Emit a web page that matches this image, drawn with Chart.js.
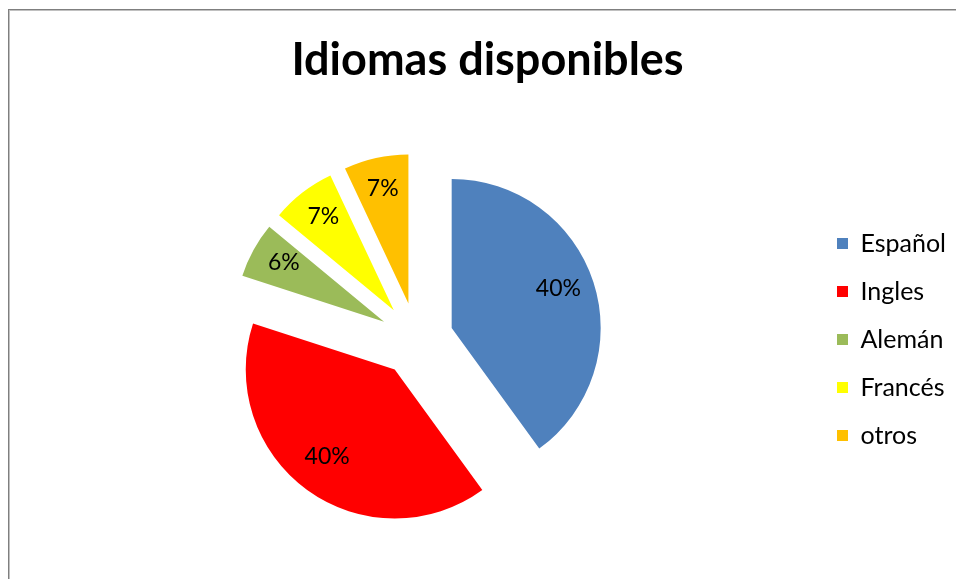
<!DOCTYPE html>
<html>
<head>
<meta charset="utf-8">
<script src="https://cdn.jsdelivr.net/npm/chart.js@4.4.1/dist/chart.umd.min.js"></script>
<style>
  html, body { margin: 0; padding: 0; background: #fff; }
  #wrap { position: relative; width: 956px; height: 579px; overflow: hidden; }
  #frame { position: absolute; left: 8px; top: 9px; width: 1000px; height: 700px;
           border-top: 1px solid #7f7f7f; border-left: 1px solid #7f7f7f;
           box-shadow: inset 1px 1px 0 #c0c0c0; }
  canvas { position: absolute; left: 0; top: 0; }
</style>
</head>
<body>
<div id="wrap">
  <div id="frame"></div>
  <canvas id="c" width="956" height="579"></canvas>
</div>
<script>
const categories = ['Español', 'Ingles', 'Alemán', 'Francés', 'otros'];
const values = [40, 40, 6, 7, 7];
const pctLabels = ['40%', '40%', '6%', '7%', '7%'];
const colors = ['#4F81BD', '#FF0000', '#9BBB59', '#FFFF00', '#FFC000'];
const titleText = 'Idiomas disponibles';

const FONT = 'Lato, "Open Sans", sans-serif';
const EXPLODE = 37; // px each slice is pulled out along its bisector

// Draw each library arc element shifted outward (exploded pie)
const explodePlugin = {
  id: 'explode',
  beforeDatasetDraw(chart, args) {
    const ctx = chart.ctx;
    args.meta.data.forEach(arc => {
      const mid = (arc.startAngle + arc.endAngle) / 2;
      ctx.save();
      ctx.translate(Math.cos(mid) * EXPLODE, Math.sin(mid) * EXPLODE);
      arc.draw(ctx);
      ctx.restore();
    });
    return false;
  }
};

const pctLabelPlugin = {
  id: 'pctLabels',
  afterDatasetsDraw(chart) {
    const ctx = chart.ctx;
    const meta = chart.getDatasetMeta(0);
    ctx.save();
    ctx.font = '23px ' + FONT;
    ctx.fillStyle = '#000';
    ctx.textAlign = 'center';
    ctx.textBaseline = 'alphabetic';
    meta.data.forEach((arc, i) => {
      const p = arc.getProps(['x', 'y', 'startAngle', 'endAngle', 'outerRadius'], true);
      const mid = (p.startAngle + p.endAngle) / 2;
      const d = EXPLODE + 0.76 * p.outerRadius;
      ctx.fillText(pctLabels[i], p.x + Math.cos(mid) * d - 1, p.y + Math.sin(mid) * d + 3);
    });
    ctx.restore();
  }
};

new Chart(document.getElementById('c'), {
  type: 'pie',
  data: {
    labels: categories,
    datasets: [{
      data: values,
      backgroundColor: colors,
      borderWidth: 0,
      hoverOffset: 0
    }]
  },
  options: {
    responsive: false,
    animation: false,
    radius: 149,
    layout: { padding: { left: 19, right: 0, top: 0, bottom: 15 } },
    plugins: {
      title: {
        display: true,
        text: titleText,
        color: '#000',
        font: { family: FONT, size: 45, weight: 'bold' },
        padding: { top: 33, bottom: 28 }
      },
      legend: {
        position: 'right',
        fullSize: false,
        labels: {
          color: '#000',
          font: { family: FONT, size: 25 },
          boxWidth: 11,
          boxHeight: 11,
          padding: 23
        }
      },
      tooltip: { enabled: false }
    }
  },
  plugins: [explodePlugin, pctLabelPlugin]
});
</script>
</body>
</html>
